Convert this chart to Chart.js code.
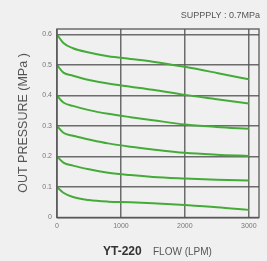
<!DOCTYPE html>
<html>
<head>
<meta charset="utf-8">
<script src="https://cdn.jsdelivr.net/npm/chart.js@4"></script>
<style>
  html, body { margin: 0; padding: 0; background: #f1f0f1; }
  #wrap { width: 267px; height: 261px; }
</style>
</head>
<body>
<div id="wrap"><canvas id="chart" width="267" height="261"></canvas></div>
<script>
// flow (LPM) sample points
var flow = [0, 100, 250, 500, 800, 1150, 1500, 2000, 2500, 3000];

// out pressure (MPa), one curve per set pressure
var p06 = [0.600, 0.572, 0.555, 0.541, 0.529, 0.520, 0.511, 0.494, 0.474, 0.453];
var p05 = [0.500, 0.475, 0.465, 0.451, 0.439, 0.429, 0.419, 0.402, 0.388, 0.374];
var p04 = [0.400, 0.377, 0.366, 0.352, 0.340, 0.329, 0.319, 0.305, 0.297, 0.291];
var p03 = [0.300, 0.278, 0.268, 0.256, 0.243, 0.232, 0.223, 0.212, 0.206, 0.202];
var p02 = [0.200, 0.180, 0.170, 0.158, 0.147, 0.139, 0.133, 0.128, 0.124, 0.121];
var p01 = [0.100, 0.081, 0.067, 0.057, 0.052, 0.050, 0.047, 0.041, 0.034, 0.025];

var xTicks = [0, 1000, 2000, 3000];
var yTicks = [0, 0.1, 0.2, 0.3, 0.4, 0.5, 0.6];

var green = "#45ab38";
var gridColor = "rgba(85,85,85,0.85)";

function toPoints(ys) {
    return flow.map(function (f, i) { return { x: f, y: ys[i] }; });
}

function curve(ys) {
    return {
        data: toPoints(ys),
        borderColor: green,
        borderWidth: 2,
        pointRadius: 0,
        fill: false,
        cubicInterpolationMode: "monotone"
    };
}

//Draws background, the frame and the free-standing texts.
var decor = {
    id: "decor",
    beforeDraw: function (chart) {
        var ctx = chart.ctx;
        ctx.save();
        ctx.fillStyle = "#f1f0f1";
        ctx.fillRect(0, 0, chart.width, chart.height);
        ctx.restore();
    },
    afterDraw: function (chart) {
        var ctx = chart.ctx;
        var a = chart.chartArea;
        ctx.save();
        ctx.strokeStyle = gridColor;
        ctx.lineWidth = 1.5;
        ctx.strokeRect(a.left, a.top, a.right - a.left, a.bottom - a.top);

        ctx.fillStyle = "#555";
        ctx.textBaseline = "middle";
        ctx.font = "9px 'Liberation Sans', Arial, sans-serif";
        ctx.textAlign = "right";
        ctx.fillText("SUPPPLY : 0.7MPa", 260, 16);

        ctx.textAlign = "left";
        ctx.font = "bold 12px 'Liberation Sans', Arial, sans-serif";
        ctx.fillStyle = "#333";
        ctx.fillText("YT-220", 103, 252);
        ctx.font = "10px 'Liberation Sans Narrow', 'Liberation Sans', Arial, sans-serif";
        ctx.fillStyle = "#555";
        ctx.fillText("FLOW (LPM)", 153, 252);

        ctx.translate(24, 123);
        ctx.rotate(-Math.PI / 2);
        ctx.textAlign = "center";
        ctx.font = "12.5px 'Liberation Sans', Arial, sans-serif";
        ctx.fillText("OUT PRESSURE (MPa )", 0, 0);
        ctx.restore();
    }
};

new Chart(document.getElementById("chart"), {
    type: "line",
    data: {
        datasets: [curve(p06), curve(p05), curve(p04), curve(p03), curve(p02), curve(p01)]
    },
    options: {
        responsive: false,
        animation: false,
        events: [],
        layout: { padding: { top: 29, right: 8, left: 0, bottom: 0 } },
        plugins: { legend: { display: false }, tooltip: { enabled: false } },
        scales: {
            x: {
                type: "linear",
                min: 0,
                max: 3160,
                afterBuildTicks: function (s) { s.ticks = xTicks.map(function (v) { return { value: v }; }); },
                afterFit: function (s) { s.height = 43.5; },
                grid: { color: gridColor, lineWidth: 1.5, drawTicks: false },
                border: { display: false },
                ticks: {
                    padding: 4,
                    color: "#777",
                    font: { size: 7, family: "'Liberation Sans', Arial, sans-serif" },
                    maxRotation: 0,
                    callback: function (v) { return String(v); }
                }
            },
            y: {
                min: 0,
                max: 0.618,
                afterBuildTicks: function (s) { s.ticks = yTicks.map(function (v) { return { value: v }; }); },
                afterFit: function (s) { s.width = 57; },
                grid: { color: gridColor, lineWidth: 1.5, drawTicks: false },
                border: { display: false },
                ticks: {
                    padding: 5,
                    color: "#777",
                    font: { size: 7, family: "'Liberation Sans', Arial, sans-serif" },
                    callback: function (v) { return v === 0 ? "0" : v.toFixed(1); }
                }
            }
        }
    },
    plugins: [decor]
});
</script>
</body>
</html>
